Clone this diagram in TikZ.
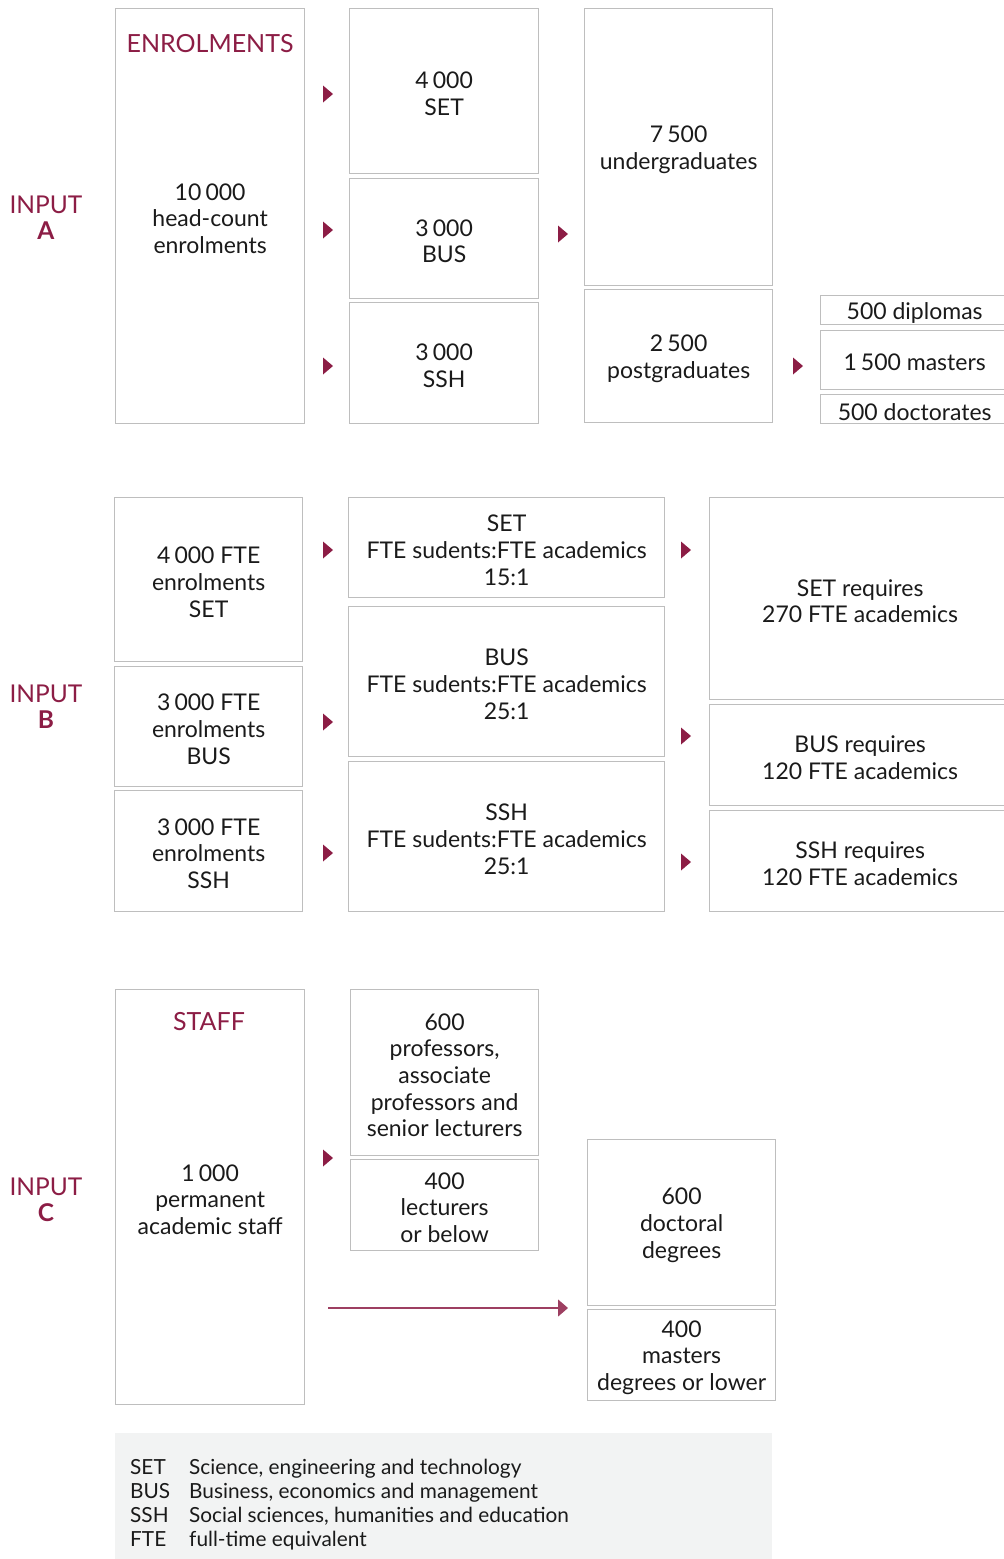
\documentclass[tikz,border=0pt]{standalone}
\usepackage{fontspec}
\setmainfont{Lato}
\usetikzlibrary{calc,arrows.meta}
\definecolor{accent}{HTML}{8C1D45}
\definecolor{frame}{HTML}{BEBEBE}
\definecolor{legendbg}{HTML}{F2F3F3}
\definecolor{ink}{HTML}{1A1A1A}

\tikzset{
  box/.style={draw=frame, line width=1.3pt, anchor=north west, inner sep=0pt},
  boxtext/.style={align=center, inner sep=0pt, text=ink,
    font=\fontsize{23}{26.7}\selectfont},
  headline/.style={text=accent, font=\fontsize{25}{28}\selectfont},
  inputlabel/.style={text=accent, align=center, font=\fontsize{24.5}{29}\selectfont},
  legendtext/.style={anchor=base west, text=ink, inner sep=0pt,
    font=\fontsize{20.8}{24}\selectfont},
}

% \panel{name}{x1}{y1}{x2}{y2}{text}: framed box given by its corners, text centred
\newcommand{\panel}[6]{%
  \node[box, minimum width={#4pt-#2pt}, minimum height={#5pt-#3pt}] (#1) at (#2,#3) {};
  \node[boxtext] (#1-t) at ([yshift=-2.5pt]#1.center) {#6};}
% \marker{x}{y}: small filled triangle pointing right
\newcommand{\marker}[2]{%
  \fill[accent] (#1-5,#2-8.5) -- (#1+5,#2) -- (#1-5,#2+8.5) -- cycle;}
\newcommand{\ns}{\hspace{0.18em}}

\begin{document}
\begin{tikzpicture}[x=1pt,y=-1pt]
\useasboundingbox (0,0) rectangle (1004,1559);

% ---------- Input A: enrolments ----------
\node[inputlabel] (inA) at (46,218) {INPUT\\[-3pt]\textbf{A}};
\panel{enr}{115}{8}{304}{423}{10\ns000\\head-count\\enrolments}
\node[headline] (enrT) at (210,44) {ENROLMENTS};

\panel{aset}{349}{8}{538}{173}{4\ns000\\SET}
\panel{abus}{349}{178}{538}{298}{3\ns000\\BUS}
\panel{assh}{349}{302}{538}{423}{3\ns000\\SSH}

\panel{ug}{584}{8}{772}{285}{7\ns500\\undergraduates}
\panel{pg}{584}{289}{772}{422}{2\ns500\\postgraduates}

\panel{dip}{820}{295}{1008}{324}{500 diplomas}
\panel{mas}{820}{330}{1008}{389}{1\ns500 masters}
\panel{doc}{820}{394}{1008}{423}{500 doctorates}

\marker{328}{94}
\marker{328}{230}
\marker{328}{366}
\marker{563}{234}
\marker{798}{366}

% ---------- Input B: FTE ratios ----------
\node[inputlabel] (inB) at (46,707) {INPUT\\[-3pt]\textbf{B}};
\panel{bset}{114}{497}{302}{661}{4\ns000 FTE\\enrolments\\SET}
\panel{bbus}{114}{666}{302}{786}{3\ns000 FTE\\enrolments\\BUS}
\panel{bssh}{114}{790}{302}{911}{3\ns000 FTE\\enrolments\\SSH}

\panel{rset}{348}{497}{664}{597}{SET\\FTE sudents:FTE academics\\15:1}
\panel{rbus}{348}{606}{664}{756}{BUS\\FTE sudents:FTE academics\\25:1}
\panel{rssh}{348}{761}{664}{911}{SSH\\FTE sudents:FTE academics\\25:1}

\panel{qset}{709}{497}{1010}{699}{SET requires\\270 FTE academics}
\panel{qbus}{709}{704}{1010}{805}{BUS requires\\120 FTE academics}
\panel{qssh}{709}{810}{1010}{911}{SSH requires\\120 FTE academics}

\marker{328}{550}
\marker{328}{722}
\marker{328}{853}
\marker{686}{550}
\marker{686}{736}
\marker{686}{862}

% ---------- Input C: staff ----------
\node[inputlabel] (inC) at (46,1200) {INPUT\\[-3pt]\textbf{C}};
\panel{staff}{115}{989}{304}{1404}{1\ns000\\permanent\\academic staff}
\node[headline] (staffT) at (209,1022) {STAFF};

\panel{prof}{350}{989}{538}{1155}{600\\professors,\\associate\\professors and\\senior lecturers}
\panel{lect}{350}{1159}{538}{1250}{400\\lecturers\\or below}

\panel{phd}{587}{1139}{775}{1305}{600\\doctoral\\degrees}
\panel{msc}{587}{1309}{775}{1400}{400\\masters\\degrees or lower}

\marker{328}{1158}
\coordinate (cstart) at (328,1308);
\draw[accent!85, line width=1.1pt, -{Triangle[width=17pt,length=10pt]}]
  (cstart) -- ([xshift=-19pt]phd.west |- cstart);

% ---------- Legend ----------
\fill[legendbg] (115,1433) rectangle (772,1559);
\node[legendtext] (k1) at (130,1474) {SET};
\node[legendtext] (v1) at (189,1474) {Science, engineering and technology};
\node[legendtext] (k2) at (130,1498) {BUS};
\node[legendtext] (v2) at (189,1498) {Business, economics and management};
\node[legendtext] (k3) at (130,1522) {SSH};
\node[legendtext] (v3) at (189,1522) {Social sciences, humanities and education};
\node[legendtext] (k4) at (130,1546) {FTE};
\node[legendtext] (v4) at (189,1546) {full-time equivalent};
\end{tikzpicture}
\end{document}
